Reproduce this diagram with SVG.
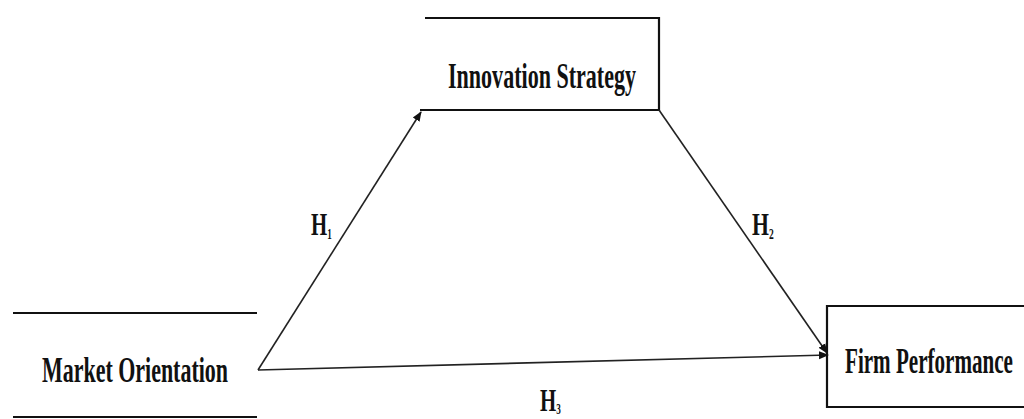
<svg xmlns="http://www.w3.org/2000/svg" width="1024" height="419" viewBox="0 0 1024 419">
<style>
.box{fill:none;stroke:#111;stroke-width:2.2}
.lbl{font-family:"Liberation Serif",serif;font-weight:bold;font-size:36px;fill:#111}
.h{font-family:"Liberation Serif",serif;font-weight:bold;font-size:32px;fill:#111}
.sub{font-size:14px}
.con{fill:none;stroke:#222;stroke-width:1.6}
</style>
<defs>
<marker id="arr" viewBox="0 0 10 10" refX="9" refY="5" markerWidth="10" markerHeight="10" orient="auto" markerUnits="userSpaceOnUse">
<path d="M0,1 L10,5 L0,9 Z" fill="#111"/>
</marker>
</defs>
<rect width="1024" height="419" fill="#fff"/>
<g id="market-orientation">
<line class="box" x1="13" y1="313" x2="257" y2="313"/>
<line class="box" x1="13" y1="417" x2="257" y2="417"/>
<text class="lbl" x="42" y="382" textLength="186" lengthAdjust="spacingAndGlyphs">Market Orientation</text>
</g>
<g id="innovation-strategy">
<polyline class="box" points="425,18 659,18 659,110 420,110"/>
<text class="lbl" x="448" y="88" textLength="188" lengthAdjust="spacingAndGlyphs">Innovation Strategy</text>
</g>
<g id="firm-performance">
<polyline class="box" points="1026,306 827,306 827,407 1026,407"/>
<text class="lbl" transform="translate(845,373) scale(0.68,1)" font-size="31" textLength="247" lengthAdjust="spacingAndGlyphs">Firm Performance</text>
</g>
<g id="connectors">
<line class="con" x1="258" y1="370" x2="421" y2="112" marker-end="url(#arr)"/>
<line class="con" x1="659" y1="110" x2="827" y2="353" marker-end="url(#arr)"/>
<line class="con" x1="258" y1="370" x2="828" y2="355" marker-end="url(#arr)"/>
<text class="h" transform="translate(311,235) scale(0.65,1)">H<tspan class="sub" dy="4">1</tspan></text>
<text class="h" transform="translate(752,235) scale(0.68,1)">H<tspan class="sub" dy="4">2</tspan></text>
<text class="h" transform="translate(540,411) scale(0.65,1)">H<tspan class="sub" dy="3">3</tspan></text>
</g>
</svg>
